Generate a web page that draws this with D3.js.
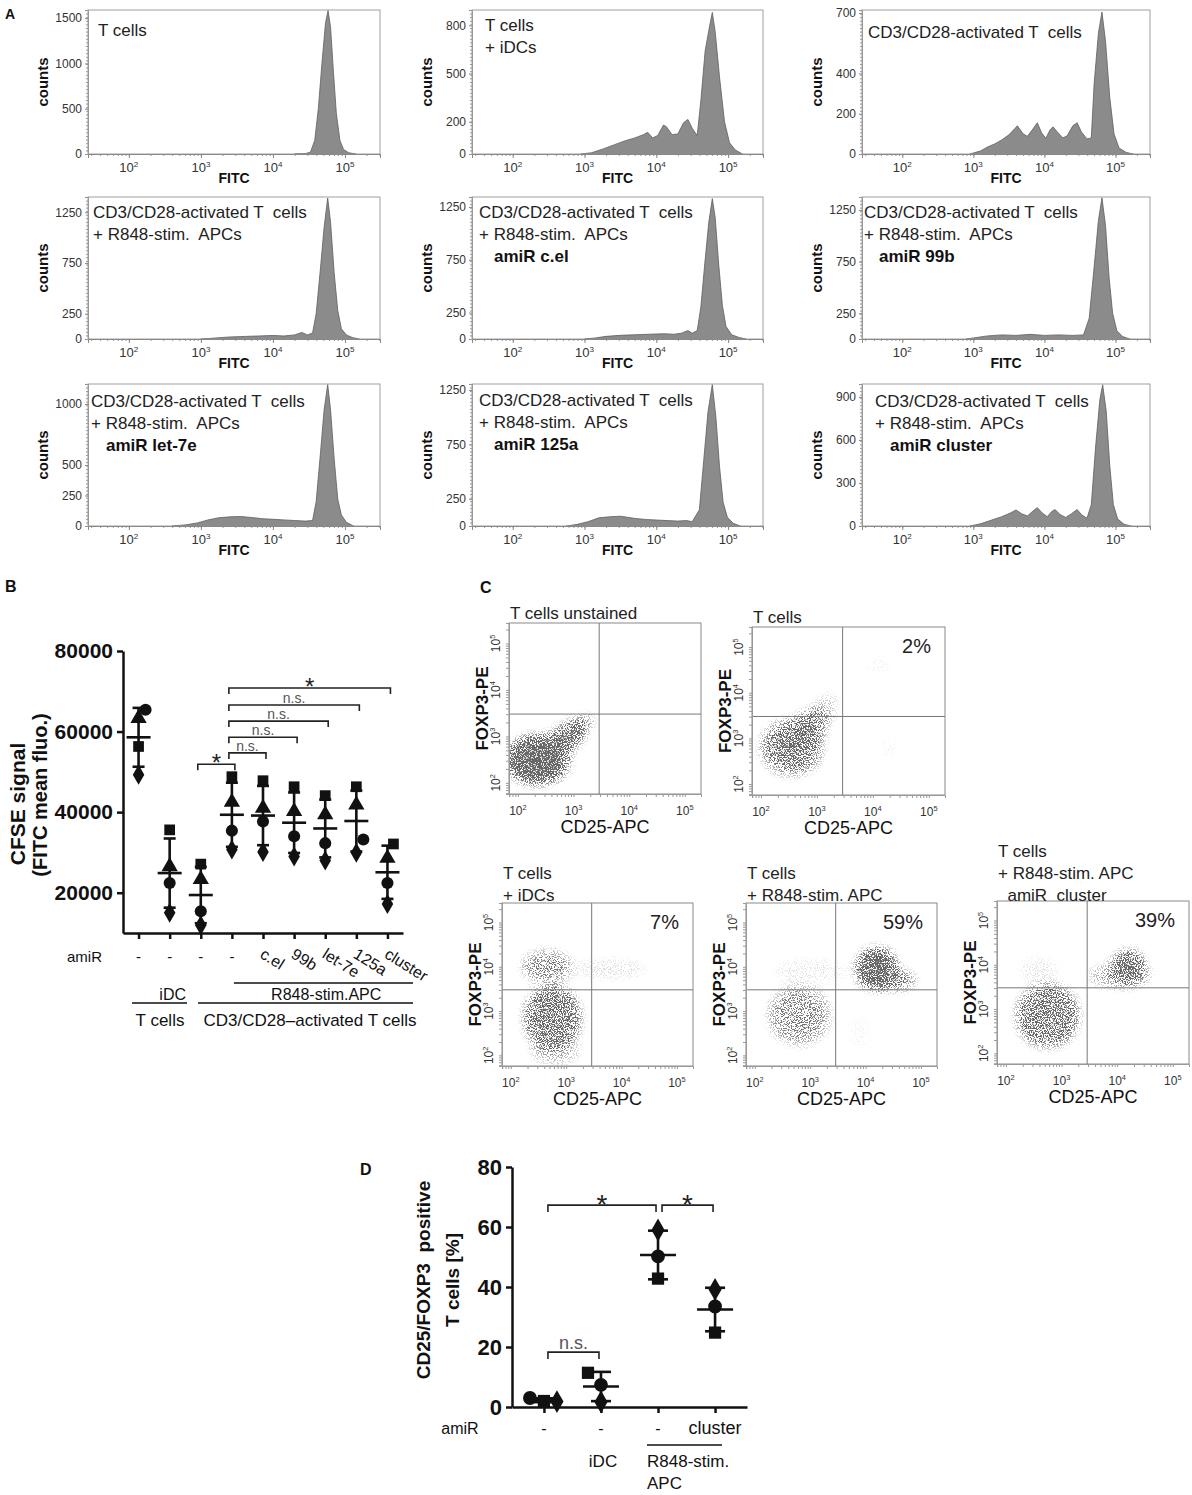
<!DOCTYPE html>
<html>
<head>
<meta charset="utf-8">
<script src="https://cdn.jsdelivr.net/npm/d3@7/dist/d3.min.js"></script>
<style>
  body { margin: 0; background: #fff; }
  text { font-family: Arial, "Liberation Sans", Helvetica, sans-serif; white-space: pre; }
</style>
</head>
<body>
<svg id="fig" width="1192" height="1495">
  <defs>
    <filter id="speck" x="-5%" y="-5%" width="110%" height="110%" color-interpolation-filters="sRGB">
      <feGaussianBlur in="SourceAlpha" stdDeviation="6" result="dens"/>
      <feTurbulence type="fractalNoise" baseFrequency="0.85" numOctaves="2" seed="7" result="noise"/>
      <feColorMatrix in="noise" type="matrix" values="0 0 0 0 0  0 0 0 0 0  0 0 0 0 0  5 0 0 0 -2.1" result="na"/>
      <feComposite in="dens" in2="na" operator="arithmetic" k1="0" k2="1.1" k3="-1" k4="-0.03" result="diff"/>
      <feComponentTransfer in="diff" result="bin"><feFuncA type="linear" slope="2.2" intercept="0"/></feComponentTransfer>
      <feFlood flood-color="#666666"/>
      <feComposite in2="bin" operator="in"/>
    </filter>
  </defs>
</svg>
<script>
// ---------- A: CFSE dilution histograms  [log10(FITC), counts]
const histTitles = [
  ["T cells"],
  ["T cells", "+ iDCs"],
  ["CD3/CD28-activated T  cells"],
  ["CD3/CD28-activated T  cells", "+ R848-stim.  APCs"],
  ["CD3/CD28-activated T  cells", "+ R848-stim.  APCs", "amiR c.el"],
  ["CD3/CD28-activated T  cells", "+ R848-stim.  APCs", "amiR 99b"],
  ["CD3/CD28-activated T  cells", "+ R848-stim.  APCs", "amiR let-7e"],
  ["CD3/CD28-activated T  cells", "+ R848-stim.  APCs", "amiR 125a"],
  ["CD3/CD28-activated T  cells", "+ R848-stim.  APCs", "amiR cluster"]
];
const histTicks = [[0,500,1000,1500],[0,200,500,800],[0,200,400,700],[0,250,750,1250],[0,250,750,1250],
                   [0,250,750,1250],[0,250,500,1000],[0,250,750,1250],[0,300,600,900]];
const histMax = [1590, 895, 715, 1400, 1345, 1377, 1164, 1305, 990];

const histTcells = [[4.3,0],[4.45,5],[4.52,20],[4.58,150],[4.63,500],[4.68,1000],[4.73,1450],[4.765,1585],
  [4.8,1400],[4.84,900],[4.88,450],[4.93,150],[4.98,50],[5.05,15],[5.15,0]];
const histIDC = [[2.95,0],[3.1,8],[3.25,30],[3.4,55],[3.55,80],[3.7,100],[3.82,120],[3.88,135],[3.95,100],
  [4.02,115],[4.1,180],[4.14,170],[4.22,120],[4.3,125],[4.38,195],[4.44,215],[4.5,160],[4.57,115],[4.62,330],
  [4.68,640],[4.74,790],[4.78,880],[4.82,760],[4.88,480],[4.95,200],[5.02,70],[5.1,25],[5.2,0]];
const histAct = [[2.95,0],[3.1,15],[3.2,35],[3.3,50],[3.4,70],[3.5,95],[3.58,125],[3.62,140],[3.7,100],
  [3.76,88],[3.84,125],[3.9,155],[3.96,105],[4.02,78],[4.08,120],[4.12,135],[4.18,110],[4.26,80],[4.32,90],
  [4.4,140],[4.46,155],[4.52,110],[4.6,75],[4.66,80],[4.7,350],[4.76,600],[4.81,705],[4.86,560],[4.92,280],
  [4.98,100],[5.05,30],[5.15,8],[5.25,0]];
const histR848 = [[3.0,0],[3.2,10],[3.4,20],[3.6,25],[3.8,30],[4.0,35],[4.15,30],[4.3,40],[4.4,65],[4.48,40],
  [4.55,60],[4.6,250],[4.66,700],[4.71,1100],[4.76,1390],[4.8,1150],[4.85,650],[4.9,280],[4.95,100],[5.02,40],
  [5.1,15],[5.2,0]];
const histCel = [[3.0,0],[3.15,10],[3.3,25],[3.5,35],[3.7,40],[3.9,45],[4.1,50],[4.25,45],[4.35,55],[4.44,80],
  [4.5,55],[4.57,80],[4.62,300],[4.68,750],[4.73,1100],[4.78,1330],[4.82,1150],[4.87,700],[4.92,320],
  [4.97,120],[5.05,40],[5.15,15],[5.25,0]];
const hist99b = [[2.9,0],[3.05,15],[3.2,30],[3.4,40],[3.6,35],[3.8,45],[4.0,35],[4.2,40],[4.4,35],[4.55,40],
  [4.63,200],[4.7,700],[4.76,1150],[4.81,1370],[4.86,1100],[4.91,600],[4.96,250],[5.02,80],[5.1,25],[5.2,0]];
const histLet7e = [[2.6,0],[2.8,10],[2.95,25],[3.1,50],[3.25,68],[3.4,75],[3.55,78],[3.7,70],[3.85,60],
  [4.0,55],[4.15,50],[4.3,45],[4.45,40],[4.55,45],[4.6,200],[4.66,600],[4.71,950],[4.76,1160],[4.8,950],
  [4.85,550],[4.9,220],[4.95,90],[5.02,30],[5.12,0]];
const hist125a = [[2.75,0],[2.9,15],[3.05,40],[3.2,75],[3.35,85],[3.5,90],[3.6,80],[3.7,70],[3.85,60],
  [4.0,55],[4.15,50],[4.3,45],[4.42,50],[4.5,40],[4.6,150],[4.66,600],[4.72,1050],[4.78,1300],[4.83,1000],
  [4.88,550],[4.93,220],[4.99,80],[5.07,25],[5.17,0]];
const histCluster = [[2.95,0],[3.1,15],[3.25,40],[3.4,65],[3.52,90],[3.6,112],[3.68,85],[3.76,70],[3.84,105],
  [3.9,128],[3.97,90],[4.04,65],[4.1,100],[4.15,115],[4.22,80],[4.3,60],[4.38,85],[4.46,115],[4.53,75],
  [4.6,55],[4.66,150],[4.72,550],[4.78,880],[4.82,985],[4.87,800],[4.92,420],[4.97,150],[5.03,50],
  [5.12,12],[5.22,0]];
const histData = [histTcells, histIDC, histAct, histR848, histCel, hist99b, histLet7e, hist125a, histCluster];

// ---------- B: CFSE mean fluorescence per donor
const bLabels = ["-", "-", "-", "-", "c.el", "99b", "let-7e", "125a", "cluster"];
const bSquare   = [56300, 35600, 27100, 48800, 47800, 46300, 44100, 46300, 32100];
const bTriangle = [63300, 26500, 23300, 42500, 41000, 40200, 39400, 41800, 28600];
const bCircle   = [65400, 22400, 15400, 35400, 37700, 34000, 32300, 33200, 22400];
const bDiamond  = [49300, 15000, 11900, 30700, 30100, 29000, 28000, 29900, 17200];
const bTicks = [20000, 40000, 60000, 80000];
const bBrackets = [[2, 3, 51900, "*"], [3, 4, 54700, "n.s."], [3, 5, 58600, "n.s."],
                   [3, 6, 62600, "n.s."], [3, 7, 66600, "n.s."], [3, 8, 70800, "*"]];

// ---------- C: FOXP3 / CD25 dot plots; clouds = [log CD25, log FOXP3, rx, ry, angle, density]
const flowTitles = [["T cells unstained"], ["T cells"], ["T cells", "+ iDCs"],
                    ["T cells", "+ R848-stim. APC"], ["T cells", "+ R848-stim. APC", "  amiR  cluster"]];
const flowPct = [null, "2%", "7%", "59%", "39%"];
const cloudUnstained = [[2.35,2.5,0.55,0.5,0,1.0],[2.8,2.9,0.5,0.25,-40,0.8],[3.1,3.2,0.3,0.15,-40,0.45]];
const cloudTcells = [[2.55,2.8,0.55,0.6,0,0.5],[2.75,3.1,0.55,0.35,-45,0.5],[3.1,3.6,0.35,0.25,-50,0.22],
                     [4.1,4.6,0.3,0.2,0,0.07],[4.3,2.8,0.15,0.3,0,0.08]];
const cloudIDC = [[2.75,2.85,0.5,0.7,0,0.65],[2.65,4.0,0.45,0.35,0,0.42],[3.8,3.95,0.7,0.25,0,0.12],
                  [2.8,2.1,0.45,0.3,0,0.25]];
const cloudR848 = [[4.2,3.95,0.35,0.45,0,0.95],[4.55,3.7,0.35,0.2,0,0.55],[2.8,2.9,0.55,0.65,0,0.4],
                   [3.0,3.9,0.7,0.3,0,0.1],[3.9,2.5,0.3,0.5,0,0.05]];
const cloudCluster = [[4.2,3.95,0.28,0.35,0,0.8],[4.05,3.75,0.55,0.25,0,0.35],[2.75,2.85,0.55,0.7,0,0.6],
                      [2.6,3.9,0.4,0.3,0,0.1]];
const flowClouds = [cloudUnstained, cloudTcells, cloudIDC, cloudR848, cloudCluster];

// ---------- D: CD25+FOXP3+ T cells [%]
const dLabels = ["-", "-", "-", "cluster"];
const dCircle  = [3.0, 7.4, 50.2, 33.5];
const dSquare  = [2.0, 11.4, 42.8, 24.8];
const dDiamond = [1.8, 1.7, 59.0, 39.2];
const dTicks = [0, 20, 40, 60, 80];
const dBrackets = [[0, 2, 67.3, "*"], [2, 3, 67.3, "*"], [0, 1, 18.3, "n.s."]];

// =====================================================================
const svg = d3.select("#fig");
const symbols = { square: d3.symbolSquare, circle: d3.symbolCircle, triangle: d3.symbolTriangle, diamond: d3.symbolDiamond };
const plain = d3.format("d");

function styleAxis(g, o) {
  g.attr("font-family", null).attr("font-size", o.size || 12);
  g.select(".domain").attr("stroke", o.color || "#000").attr("stroke-width", o.width || 1);
  g.selectAll(".tick line").attr("stroke", o.color || "#000").attr("stroke-width", o.width || 1);
  g.selectAll(".tick text").attr("fill", o.text || "#000").attr("font-weight", o.bold ? "bold" : null);
  return g;
}
function pow10(g, x, y, exp, size, rotate) {
  const t = g.append("text").attr("x", x).attr("y", y).attr("text-anchor", "middle")
    .attr("font-size", size).attr("fill", "#333");
  if (rotate) t.attr("transform", `rotate(-90,${x},${y})`);
  t.append("tspan").text("10");
  t.append("tspan").attr("dy", -size * 0.42).attr("font-size", size * 0.62).text(exp);
}
function label(g, x, y, txt, o = {}) {
  const t = g.append("text").attr("x", x).attr("y", y).text(txt)
    .attr("font-size", o.size || 14).attr("fill", o.fill || "#111")
    .attr("text-anchor", o.anchor || "start").attr("font-weight", o.bold ? "bold" : null);
  if (o.rotate) t.attr("transform", `rotate(${o.rotate},${x},${y})`);
  return t;
}
const logMinor = [];
for (let e = 1; e <= 5; e++) for (let m = 1; m <= 9; m++) logMinor.push(e + Math.log10(m));
const inDomain = dom => logMinor.filter(v => v >= dom[0] && v <= dom[1]);

// panel letters
label(svg, 5, 19, "A", { size: 14, bold: true });
label(svg, 5, 592, "B", { size: 16, bold: true });
label(svg, 480, 593, "C", { size: 16, bold: true });
label(svg, 360, 1175, "D", { size: 16, bold: true });

// ---------------- panel A
const fitcDomain = [1.433, 5.486];
const colX = [[88, 380], [472, 763], [862, 1150]];
const rowY = [[10, 154], [197, 339], [384, 526]];
const titlePos = [[10, 26], [13, 21], [6, 28], [5, 21], [7, 21], [2, 21], [3, 23], [7, 22], [13, 23]];

histData.forEach((h, i) => {
  const [x0, x1] = colX[i % 3], [y0, y1] = rowY[Math.floor(i / 3)];
  const sx = d3.scaleLinear().domain(fitcDomain).range([x0, x1]);
  const sy = d3.scaleLinear().domain([0, histMax[i]]).range([y1, y0]);
  const g = svg.append("g");

  g.append("path").datum(h)
    .attr("fill", "#8b8b8b").attr("stroke", "#5e5e5e").attr("stroke-width", 0.8)
    .attr("d", d3.area().x(d => sx(d[0])).y0(sy(0)).y1(d => sy(d[1])));
  g.append("rect").attr("x", x0).attr("y", y0).attr("width", x1 - x0).attr("height", y1 - y0)
    .attr("fill", "none").attr("stroke", "#a0a0a0");

  styleAxis(g.append("g").attr("transform", `translate(${x0},0)`)
    .call(d3.axisLeft(sy).tickValues(histTicks[i]).tickFormat(plain).tickSize(3).tickPadding(3)),
    { size: 12, color: "#888", text: "#333" });
  styleAxis(g.append("g").attr("transform", `translate(${x0},0)`)
    .call(d3.axisLeft(sy).tickValues(d3.range(0, histMax[i], histMax[i] / 40)).tickSize(2).tickFormat("")),
    { color: "#999" });
  styleAxis(g.append("g").attr("transform", `translate(0,${y1})`)
    .call(d3.axisBottom(sx).tickValues(inDomain(fitcDomain)).tickSize(2).tickFormat("")),
    { color: "#999" });
  styleAxis(g.append("g").attr("transform", `translate(0,${y1})`)
    .call(d3.axisBottom(sx).tickValues([2, 3, 4, 5]).tickSize(4).tickFormat("")),
    { color: "#888" });
  [2, 3, 4, 5].forEach(e => pow10(g, sx(e), y1 + 18, String(e), 13));

  label(g, (x0 + x1) / 2, y1 + 29, "FITC", { size: 14, bold: true, anchor: "middle" });
  label(g, x0 - 40, (y0 + y1) / 2, "counts", { size: 15, bold: true, anchor: "middle", rotate: -90 });

  histTitles[i].forEach((line, k) => {
    const bold = line.startsWith("amiR");
    label(g, x0 + titlePos[i][0] + (bold ? 15 : 0), y0 + titlePos[i][1] + 22 * k, line,
      { size: 17, bold: bold, fill: bold ? "#111" : "#222" });
  });
});

// ---------------- scatter helper (B and D)
function scatterGroup(g, x, yScale, series, half, cap, symSize) {
  const vals = series.map(s => s.v);
  const m = d3.mean(vals), s = d3.deviation(vals);
  series.forEach(p => {
    g.append("path").attr("d", d3.symbol(symbols[p.shape], symSize)())
      .attr("transform", `translate(${x + (p.dx || 0)},${yScale(p.v)})`).attr("fill", "#111");
  });
  const ln = (a, b, c, d) => g.append("line").attr("x1", a).attr("y1", b).attr("x2", c).attr("y2", d)
    .attr("stroke", "#111").attr("stroke-width", 2.6);
  ln(x, yScale(m - s), x, yScale(m + s));
  ln(x - cap, yScale(m + s), x + cap, yScale(m + s));
  ln(x - cap, yScale(m - s), x + cap, yScale(m - s));
  ln(x - half, yScale(m), x + half, yScale(m));
}
function bracket(g, xa, xb, y, txt, tick, starSize, nsSize, nsDy) {
  g.append("path").attr("d", `M${xa},${y + tick}V${y}H${xb}V${y + tick}`)
    .attr("fill", "none").attr("stroke", "#222").attr("stroke-width", 1.6);
  if (txt === "*") label(g, (xa + xb) / 2, y + starSize * 0.58 - 7, "*", { size: starSize, anchor: "middle", fill: "#222" });
  else label(g, (xa + xb) / 2, y + nsDy, txt, { size: nsSize, anchor: "middle", fill: "#555" });
}

// ---------------- panel B
{
  const g = svg.append("g");
  const yB = d3.scaleLinear().domain([10000, 80000]).range([933, 651]);
  const xB = d3.scalePoint().domain(d3.range(bLabels.length)).range([123, 403]).padding(0.5);

  styleAxis(g.append("g").attr("transform", "translate(123,0)")
    .call(d3.axisLeft(yB).tickValues(bTicks).tickFormat(plain).tickSize(6).tickSizeOuter(0).tickPadding(4)),
    { size: 21, width: 2.5, color: "#111", text: "#111", bold: true });
  styleAxis(g.append("g").attr("transform", "translate(0,933)")
    .call(d3.axisBottom(xB).tickSize(6).tickSizeOuter(0).tickFormat("")),
    { width: 2.5, color: "#111" });

  const jit = { circle: [7, 0, 0, 0, 0, 0, 0, 7, 0], square: [0, 0, 0, 0, 0, 0, 0, 0, 6] };
  bLabels.forEach((_, i) => {
    scatterGroup(g, xB(i), yB, [
      { shape: "square", v: bSquare[i], dx: jit.square[i] },
      { shape: "triangle", v: bTriangle[i] },
      { shape: "circle", v: bCircle[i], dx: jit.circle[i] },
      { shape: "diamond", v: bDiamond[i] }
    ], 12, 6, 115);
  });
  bBrackets.forEach(([a, b, v, t]) => bracket(g, xB(a) - 3, xB(b) + 3, yB(v), t, 6, 24, 14, -2));

  // axis annotations
  label(g, 67, 962, "amiR", { size: 15 });
  bLabels.forEach((t, i) => {
    if (t === "-") label(g, xB(i), 962, "-", { size: 15, anchor: "middle" });
    else label(g, xB(i) - 4, 957, t, { size: 16, rotate: 32 });
  });
  g.append("line").attr("x1", xB(3) + 2).attr("x2", 413).attr("y1", 983).attr("y2", 983).attr("stroke", "#111").attr("stroke-width", 1.3);
  g.append("line").attr("x1", 132).attr("x2", 187).attr("y1", 1003).attr("y2", 1003).attr("stroke", "#111").attr("stroke-width", 1.3);
  g.append("line").attr("x1", 198).attr("x2", 413).attr("y1", 1003).attr("y2", 1003).attr("stroke", "#111").attr("stroke-width", 1.3);
  label(g, xB(1) + 3, 1000, "iDC", { size: 16, anchor: "middle" });
  label(g, (xB(4) + xB(8)) / 2 + 1, 1000, "R848-stim.APC", { size: 16, anchor: "middle" });
  label(g, 160, 1026, "T cells", { size: 17, anchor: "middle" });
  label(g, 310, 1026, "CD3/CD28–activated T cells", { size: 17, anchor: "middle" });

  label(g, 25, 804, "CFSE signal", { size: 21, bold: true, anchor: "middle", rotate: -90 });
  label(g, 47, 795, "(FITC mean fluo.)", { size: 20, bold: true, anchor: "middle", rotate: -90 });
}

// ---------------- panel C
const cd25Domain = [1.84, 5.29], foxp3Domain = [1.76, 5.44];
const gateCD25 = 3.46, gateFOXP3 = 3.48;
const flowBox = [[509, 623, 701, 794], [752, 627, 945, 795], [502, 903, 693, 1066], [746, 903, 937, 1066], [997, 901, 1189, 1064]];
const flowTitleY = [[-4], [-4], [-24, -2], [-24, -2], [-44, -22, 0]];

flowClouds.forEach((clouds, i) => {
  const [x0, y0, x1, y1] = flowBox[i];
  const sx = d3.scaleLinear().domain(cd25Domain).range([x0, x1]);
  const sy = d3.scaleLinear().domain(foxp3Domain).range([y1, y0]);
  const g = svg.append("g");

  g.append("clipPath").attr("id", "fclip" + i).append("rect")
    .attr("x", x0).attr("y", y0).attr("width", x1 - x0).attr("height", y1 - y0);
  const cg = g.append("g").attr("clip-path", `url(#fclip${i})`).append("g").attr("filter", "url(#speck)");
  cg.append("rect").attr("x", x0 - 10).attr("y", y0 - 10).attr("width", x1 - x0 + 20).attr("height", y1 - y0 + 20)
    .attr("fill", "none");
  clouds.forEach(c => {
    const cx = sx(c[0]), cy = sy(c[1]);
    cg.append("ellipse").attr("cx", cx).attr("cy", cy)
      .attr("rx", sx(c[0] + c[2]) - cx).attr("ry", cy - sy(c[1] + c[3]))
      .attr("transform", `rotate(${c[4]},${cx},${cy})`)
      .attr("fill", "#000").attr("fill-opacity", c[5]);
  });

  g.append("rect").attr("x", x0).attr("y", y0).attr("width", x1 - x0).attr("height", y1 - y0)
    .attr("fill", "none").attr("stroke", "#8a8a8a");
  g.append("line").attr("x1", sx(gateCD25)).attr("x2", sx(gateCD25)).attr("y1", y0).attr("y2", y1).attr("stroke", "#777");
  g.append("line").attr("x1", x0).attr("x2", x1).attr("y1", sy(gateFOXP3)).attr("y2", sy(gateFOXP3)).attr("stroke", "#777");

  styleAxis(g.append("g").attr("transform", `translate(0,${y1})`)
    .call(d3.axisBottom(sx).tickValues(inDomain(cd25Domain)).tickSize(3).tickFormat("")), { color: "#999" });
  styleAxis(g.append("g").attr("transform", `translate(${x0},0)`)
    .call(d3.axisLeft(sy).tickValues(inDomain(foxp3Domain)).tickSize(3).tickFormat("")), { color: "#999" });
  [2, 3, 4, 5].forEach(e => {
    pow10(g, sx(e), y1 + 21, String(e), 12);
    pow10(g, x0 - 9, sy(e), String(e), 12, true);
  });
  label(g, (x0 + x1) / 2, y1 + 39, "CD25-APC", { size: 18, anchor: "middle" });
  label(g, x0 - 21, (y0 + y1) / 2, "FOXP3-PE", { size: 17, bold: true, anchor: "middle", rotate: -90 });

  flowTitles[i].forEach((t, k) => label(g, x0 + 1, y0 + flowTitleY[i][k], t, { size: 17, fill: "#222" }));
  if (flowPct[i]) label(g, x1 - 14, y0 + 26, flowPct[i], { size: 20, anchor: "end", fill: "#222" });
});

// ---------------- panel D
{
  const g = svg.append("g");
  const yD = d3.scaleLinear().domain([0, 80]).range([1407, 1167]);
  const xD = d3.scalePoint().domain(d3.range(dLabels.length)).range([512, 747]).padding(0.56);

  styleAxis(g.append("g").attr("transform", "translate(512,0)")
    .call(d3.axisLeft(yD).tickValues(dTicks).tickFormat(plain).tickSize(6).tickSizeOuter(0).tickPadding(4)),
    { size: 22, width: 2.5, color: "#111", text: "#111", bold: true });
  styleAxis(g.append("g").attr("transform", "translate(0,1407)")
    .call(d3.axisBottom(xD).tickSize(6).tickSizeOuter(0).tickFormat("")),
    { width: 2.5, color: "#111" });

  const jit = { circle: [-14, 0, 0, 0], square: [0, -13, 0, 0], diamond: [13, 0, 0, 0] };
  dLabels.forEach((_, i) => {
    scatterGroup(g, xD(i), yD, [
      { shape: "circle", v: dCircle[i], dx: jit.circle[i] },
      { shape: "square", v: dSquare[i], dx: jit.square[i] },
      { shape: "diamond", v: dDiamond[i], dx: jit.diamond[i] }
    ], 18, 10, 150);
  });
  dBrackets.forEach(([a, b, v, t]) => bracket(g, xD(a) + 4, xD(b) - 2, yD(v), t, 7, 28, 18, -3));

  label(g, 460, 1434, "amiR", { size: 16, anchor: "middle" });
  dLabels.forEach((t, i) => label(g, xD(i), 1434, t, { size: t === "-" ? 16 : 18, anchor: "middle" }));
  g.append("line").attr("x1", 647).attr("x2", 722).attr("y1", 1445).attr("y2", 1445).attr("stroke", "#111").attr("stroke-width", 1.3);
  label(g, 603, 1467, "iDC", { size: 17, anchor: "middle" });
  label(g, 647, 1467, "R848-stim.", { size: 17 });
  label(g, 647, 1489, "APC", { size: 17 });

  label(g, 430, 1280, "CD25/FOXP3  positive", { size: 19, bold: true, anchor: "middle", rotate: -90 });
  label(g, 459, 1280, "T cells [%]", { size: 19, bold: true, anchor: "middle", rotate: -90 });
}
</script>
</body>
</html>
